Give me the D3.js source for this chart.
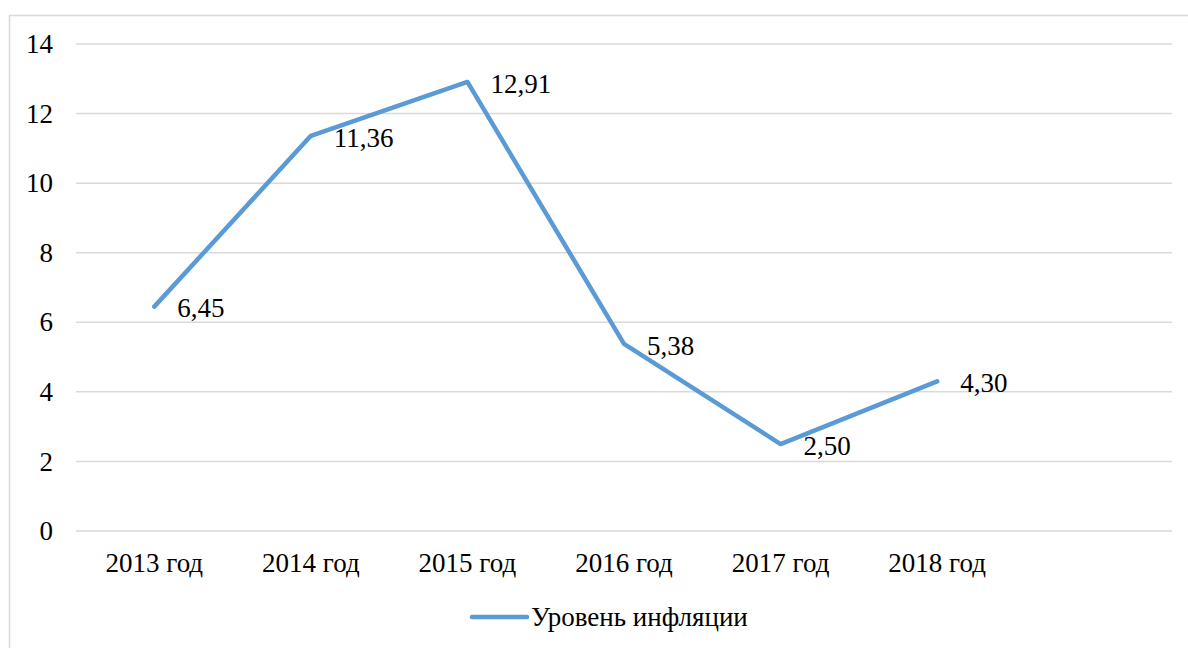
<!DOCTYPE html>
<html>
<head>
<meta charset="utf-8">
<script src="https://cdn.jsdelivr.net/npm/d3@7"></script>
<style>
  body { margin: 0; background: #fff; }
</style>
</head>
<body>
<div class="chart"></div>
<script>
// Data
var categories = ["2013 год", "2014 год", "2015 год", "2016 год", "2017 год", "2018 год"];
var inflation = [6.45, 11.36, 12.91, 5.38, 2.50, 4.30];
var yTicks = [0, 2, 4, 6, 8, 10, 12, 14];
var seriesName = "Уровень инфляции";

var fontSize = "27px";

var svgWidth = 1188, svgHeight = 648;
var margin = { top: 44, right: 16, bottom: 117, left: 76 };
var chartWidth = svgWidth - margin.left - margin.right;
var chartHeight = svgHeight - margin.top - margin.bottom;

var svg = d3.select(".chart").append("svg")
  .attr("width", svgWidth)
  .attr("height", svgHeight);

// outer frame
svg.append("rect")
  .attr("x", 9.5).attr("y", 15.5)
  .attr("width", svgWidth).attr("height", svgHeight)
  .attr("fill", "none").attr("stroke", "#d9d9d9").attr("stroke-width", 1.5);

var chart = svg.append("g")
  .attr("transform", "translate(" + margin.left + "," + margin.top + ")");

// one extra empty slot on the right, like the original
var xBand = d3.scaleBand().domain(d3.range(categories.length + 1)).range([0, chartWidth]);
var yLinear = d3.scaleLinear().domain([0, 14]).range([chartHeight, 0]);

// gridlines
chart.selectAll(".grid").data(yTicks).enter().append("line")
  .attr("x1", 0).attr("x2", chartWidth)
  .attr("y1", function(d) { return yLinear(d); })
  .attr("y2", function(d) { return yLinear(d); })
  .attr("stroke", "#d9d9d9").attr("stroke-width", 1.5);

// y labels
var leftAxis = d3.axisLeft(yLinear).tickValues(yTicks).tickSize(0).tickPadding(23);
var ya = chart.append("g").call(leftAxis);
ya.select(".domain").remove();

// x labels
var bottomAxis = d3.axisBottom(xBand).tickSize(0).tickPadding(22)
  .tickFormat(function(i) { return categories[i] || ""; });
var xa = chart.append("g").attr("transform", "translate(0," + chartHeight + ")").call(bottomAxis);
xa.select(".domain").remove();

var xPos = function(d, i) { return xBand(i) + xBand.bandwidth() / 2; };

var line = d3.line()
  .x(function(d, i) { return xPos(d, i); })
  .y(function(d) { return yLinear(d); });

chart.append("path")
  .datum(inflation)
  .attr("d", line)
  .attr("fill", "none")
  .attr("stroke", "#5b9bd5")
  .attr("stroke-width", 4.5)
  .attr("stroke-linecap", "round")
  .attr("stroke-linejoin", "round");

// data labels
chart.selectAll(".lbl").data(inflation).enter().append("text")
  .attr("class", "lbl")
  .attr("x", function(d, i) { return xPos(d, i) + 23; })
  .attr("y", function(d) { return yLinear(d); })
  .attr("dy", "0.4em")
  .text(function(d) { return d.toFixed(2).replace(".", ","); });

// legend
var legend = svg.append("g").attr("transform", "translate(472,617)");
legend.append("line")
  .attr("x1", 0).attr("x2", 55)
  .attr("stroke", "#5b9bd5").attr("stroke-width", 4.5).attr("stroke-linecap", "round");
legend.append("text")
  .attr("x", 59).attr("dy", "0.35em")
  .text(seriesName);

// same font on every text
svg.selectAll("text")
  .style("font-family", "Liberation Serif")
  .style("font-size", fontSize)
  .style("fill", "#000");
</script>
</body>
</html>
